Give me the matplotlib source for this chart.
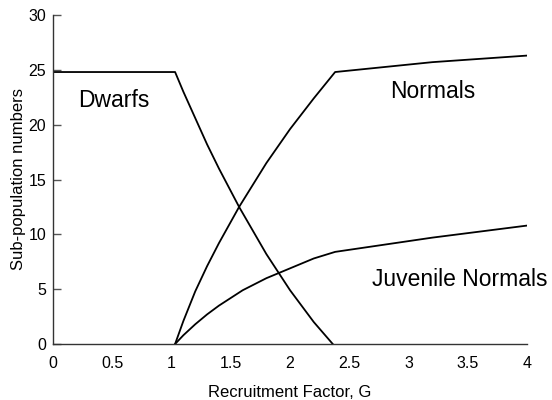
import numpy as np
import matplotlib
matplotlib.use("Agg")
import matplotlib.pyplot as plt

plt.rcParams['font.family'] = ['Liberation Sans', 'DejaVu Sans']

# values
dwarf_x = [0.0, 1.03, 1.1, 1.2, 1.3, 1.4, 1.57, 1.8, 2.0, 2.2, 2.36]
dwarf_y = [24.8, 24.8, 23.0, 20.6, 18.2, 16.0, 12.5, 8.2, 4.9, 2.0, 0.0]

normal_x = [1.03, 1.1, 1.2, 1.3, 1.4, 1.57, 1.8, 2.0, 2.2, 2.38, 3.2, 4.0]
normal_y = [0.0, 2.1, 4.8, 7.1, 9.2, 12.5, 16.5, 19.6, 22.4, 24.8, 25.7, 26.3]

juv_x = [1.03, 1.1, 1.2, 1.3, 1.4, 1.6, 1.8, 2.0, 2.2, 2.38, 3.2, 4.0]
juv_y = [0.0, 0.8, 1.8, 2.7, 3.5, 4.9, 6.0, 6.9, 7.8, 8.4, 9.7, 10.8]

x_ticks = [0, 0.5, 1, 1.5, 2, 2.5, 3, 3.5, 4]
x_tick_labels = ['0', '0.5', '1', '1.5', '2', '2.5', '3', '3.5', '4']
y_ticks = [0, 5, 10, 15, 20, 25, 30]

fig = plt.figure(figsize=(5.52, 4.0), dpi=100)
ax = fig.add_axes([0.096, 0.14, 0.859, 0.8225])

for xs, ys in [(dwarf_x, dwarf_y), (normal_x, normal_y), (juv_x, juv_y)]:
    ax.plot(xs, ys, color='black', lw=1.3, solid_joinstyle='round')

ax.text(0.51, 22.2, 'Dwarfs', fontsize=16.5, ha='center', va='center')
ax.text(3.2, 23.0, 'Normals', fontsize=16.5, ha='center', va='center')
ax.text(2.69, 5.9, 'Juvenile Normals', fontsize=16.5, ha='left', va='center',
        clip_on=False)

ax.set_xlim(0, 4)
ax.set_ylim(0, 30)
ax.set_xticks(x_ticks)
ax.set_xticklabels(x_tick_labels)
ax.set_yticks(y_ticks)

ax.spines['top'].set_visible(False)
ax.spines['right'].set_visible(False)
for s in ['left', 'bottom']:
    ax.spines[s].set_linewidth(1.0)
    ax.spines[s].set_color('#333333')

ax.tick_params(axis='y', direction='in', length=6, width=1.0,
               color='#555555', labelsize=11.5, pad=5)
ax.tick_params(axis='x', length=0, labelsize=11.5, pad=9)

ax.set_xlabel('Recruitment Factor, G', fontsize=12, labelpad=10)
ax.set_ylabel('Sub-population numbers', fontsize=12, labelpad=2)

fig.savefig('out.png', dpi=100)
